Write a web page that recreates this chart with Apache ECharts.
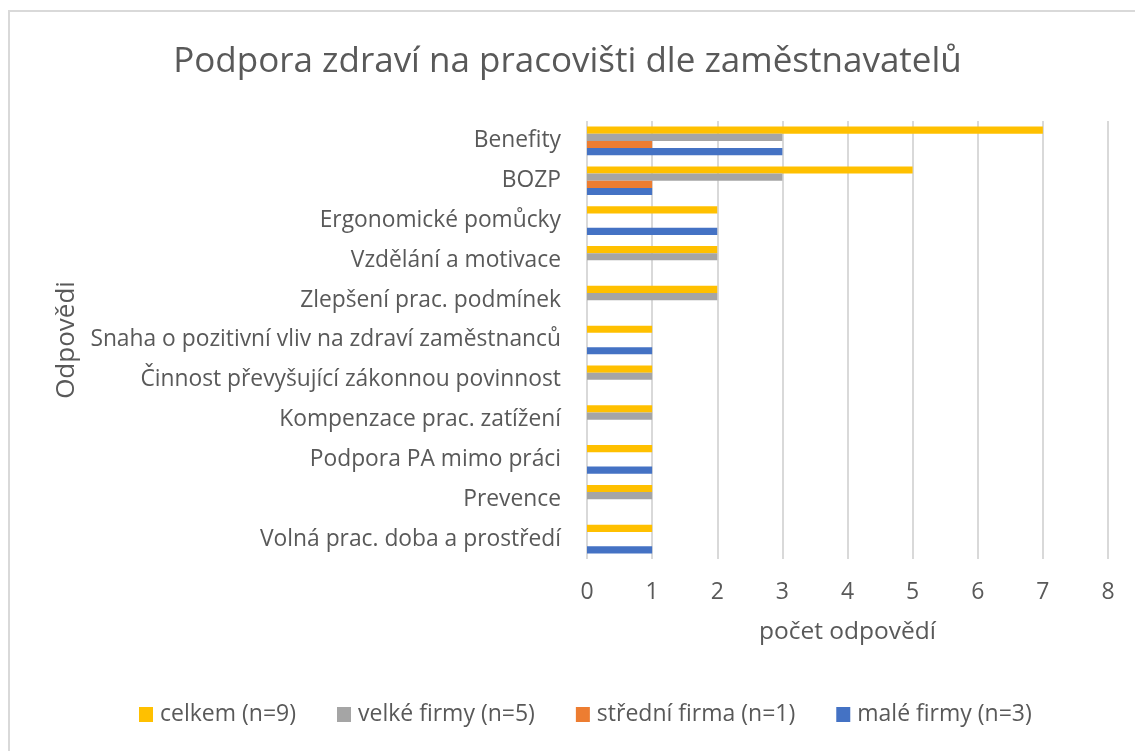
<!DOCTYPE html>
<html>
<head>
<meta charset="utf-8">
<script src="https://cdn.jsdelivr.net/npm/echarts@6/dist/echarts.min.js"></script>
<style>
  html, body { margin: 0; padding: 0; background: #fff; }
  #frame {
    position: absolute; left: 8px; top: 10px; width: 1200px; height: 800px;
    border-left: 2px solid #d9d9d9; border-top: 2px solid #d9d9d9;
  }
  #chart { position: absolute; left: 0; top: 0; width: 1135px; height: 751px; }
</style>
</head>
<body>
<div id="frame"></div>
<div id="chart"></div>
<script>
// kategorie odpovědí (shora dolů)
const categories = [
  "Benefity",
  "BOZP",
  "Ergonomické pomůcky",
  "Vzdělání a motivace",
  "Zlepšení prac. podmínek",
  "Snaha o pozitivní vliv na zdraví zaměstnanců",
  "Činnost převyšující zákonnou povinnost",
  "Kompenzace prac. zatížení",
  "Podpora PA mimo práci",
  "Prevence",
  "Volná prac. doba a prostředí"
];

// počty odpovědí podle skupin
const celkem = [7, 5, 2, 2, 2, 1, 1, 1, 1, 1, 1];
const velkeFirmy = [3, 3, 0, 2, 2, 0, 1, 1, 0, 1, 0];
const stredniFirma = [1, 1, 0, 0, 0, 0, 0, 0, 0, 0, 0];
const maleFirmy = [3, 1, 2, 0, 0, 1, 0, 0, 1, 0, 1];

const seriesNames = ["celkem (n=9)", "velké firmy (n=5)", "střední firma (n=1)", "malé firmy (n=3)"];
const colors = ["#FFC000", "#A5A5A5", "#ED7D31", "#4472C4"];
const xTicks = [0, 1, 2, 3, 4, 5, 6, 7, 8];

const font = "'Open Sans', sans-serif";
const textColor = "#595959";

const chart = echarts.init(document.getElementById("chart"));

const data = [celkem, velkeFirmy, stredniFirma, maleFirmy];

chart.setOption({
  animation: false,
  textStyle: { fontFamily: font },
  title: {
    text: "Podpora zdraví na pracovišti dle zaměstnavatelů",
    left: "center",
    top: 40,
    textStyle: { fontFamily: font, fontSize: 35, fontWeight: "normal", color: textColor }
  },
  legend: {
    bottom: 20,
    left: 134,
    itemWidth: 14,
    itemHeight: 15,
    itemGap: 41,
    icon: "rect",
    textStyle: { fontFamily: font, fontSize: 23, color: textColor, padding: [0, 0, 0, 2] },
    data: seriesNames
  },
  grid: { left: 587, right: 27, top: 121, bottom: 192 },
  xAxis: {
    type: "value",
    min: xTicks[0],
    max: xTicks[xTicks.length - 1],
    interval: 1,
    name: "počet odpovědí",
    nameLocation: "middle",
    nameGap: 61,
    nameTextStyle: { fontFamily: font, fontSize: 24.5, color: textColor },
    axisLine: { show: false },
    axisTick: { show: false },
    axisLabel: { fontFamily: font, fontSize: 23, color: textColor, margin: 22 },
    splitLine: { show: true, lineStyle: { color: "#d9d9d9", width: 2 } }
  },
  yAxis: {
    type: "category",
    data: categories,
    inverse: true,
    name: "Odpovědi",
    nameLocation: "middle",
    nameRotate: 90,
    nameGap: 507,
    nameTextStyle: { fontFamily: font, fontSize: 26, color: textColor },
    axisLine: { show: false },
    axisTick: { show: false },
    axisLabel: { fontFamily: font, fontSize: 22.8, color: textColor, margin: 26 }
  },
  series: seriesNames.map((name, i) => ({
    name: name,
    type: "bar",
    data: data[i],
    barGap: "0%",
    barCategoryGap: "28%",
    itemStyle: { color: colors[i] }
  }))
});
</script>
</body>
</html>
